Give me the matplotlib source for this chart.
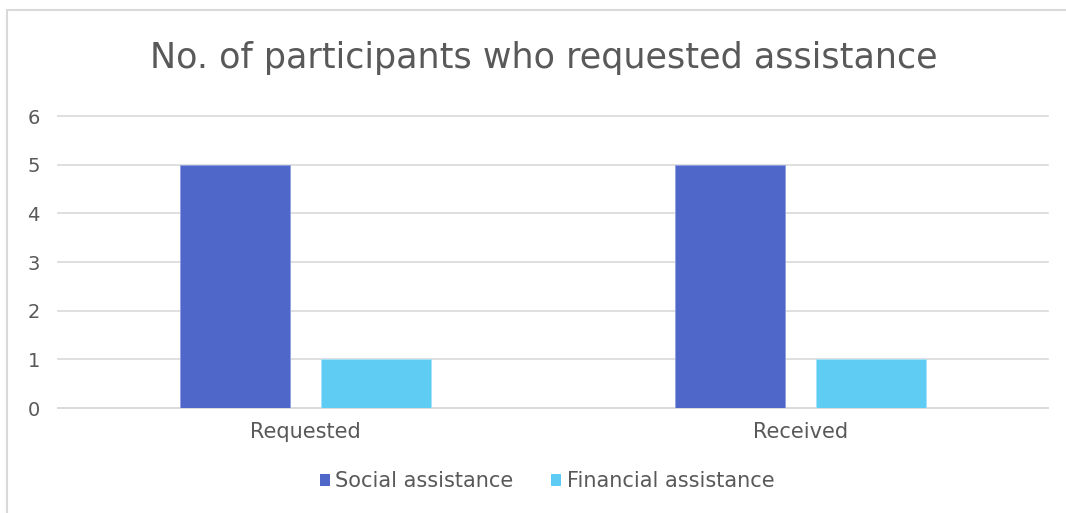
import matplotlib
matplotlib.use("Agg")
import matplotlib.pyplot as plt
from matplotlib.patches import Rectangle, Patch
import numpy as np

categories = ["Requested", "Received"]
series_names = ["Social assistance", "Financial assistance"]
social = [5, 5]
financial = [1, 1]
y_ticks = [0, 1, 2, 3, 4, 5, 6]
title = "No. of participants who requested assistance"

colors = ["#4E67C8", "#5ECCF3"]
text_color = "#595959"
grid_color = "#D9D9D9"

plt.rcParams["font.family"] = ["DejaVu Sans"]

W, H = 1066, 513
fig = plt.figure(figsize=(W / 100, H / 100), dpi=100)
fig.patch.set_facecolor("white")

# chart-area border (runs off the right and bottom edges)
fig.add_artist(Rectangle((7 / W, -0.05), 1.1, 1 - 10 / H + 0.05,
                         transform=fig.transFigure, fill=False,
                         edgecolor=grid_color, linewidth=1.5))

ax = fig.add_axes([58 / W, 1 - 408 / H, (1048 - 58) / W, (408 - 116) / H])
x = np.arange(len(categories))
width = 0.222
offset = 0.1424
ax.bar(x - offset, social, width, color=colors[0], edgecolor="#8FA0E0",
       linewidth=0.6, zorder=3, label=series_names[0])
ax.bar(x + offset, financial, width, color=colors[1], edgecolor="#A5E3F8",
       linewidth=0.6, zorder=3, label=series_names[1])

ax.set_xlim(-0.5, len(categories) - 0.5)
ax.set_ylim(0, 6)
ax.set_yticks(y_ticks)
ax.set_xticks(x)
ax.set_xticklabels(categories)
ax.yaxis.grid(True, color=grid_color, linewidth=1.2, zorder=0)
for gl in ax.get_ygridlines():
    gl.set_clip_on(False)
ax.set_axisbelow(True)
for s in ["top", "right", "left"]:
    ax.spines[s].set_visible(False)
ax.spines["bottom"].set_color(grid_color)
ax.spines["bottom"].set_linewidth(1.2)
ax.tick_params(axis="both", length=0, colors=text_color)
ax.tick_params(axis="y", pad=22, labelsize=14)
ax.tick_params(axis="x", pad=10, labelsize=15)
for lbl in ax.get_yticklabels():
    lbl.set_horizontalalignment("left")

fig.text(544 / W, 1 - 58 / H, title, ha="center", va="center",
         fontsize=25.2, color=text_color)

handles = [Patch(facecolor=c, edgecolor="none") for c in colors]
fig.legend(handles, series_names, loc="center", bbox_to_anchor=(547 / W, 1 - 481 / H),
           ncol=2, frameon=False, fontsize=15, labelcolor=text_color,
           handlelength=0.5, handleheight=0.5, handletextpad=0.25, columnspacing=1.8)

fig.savefig("out.png", dpi=100, facecolor="white")
